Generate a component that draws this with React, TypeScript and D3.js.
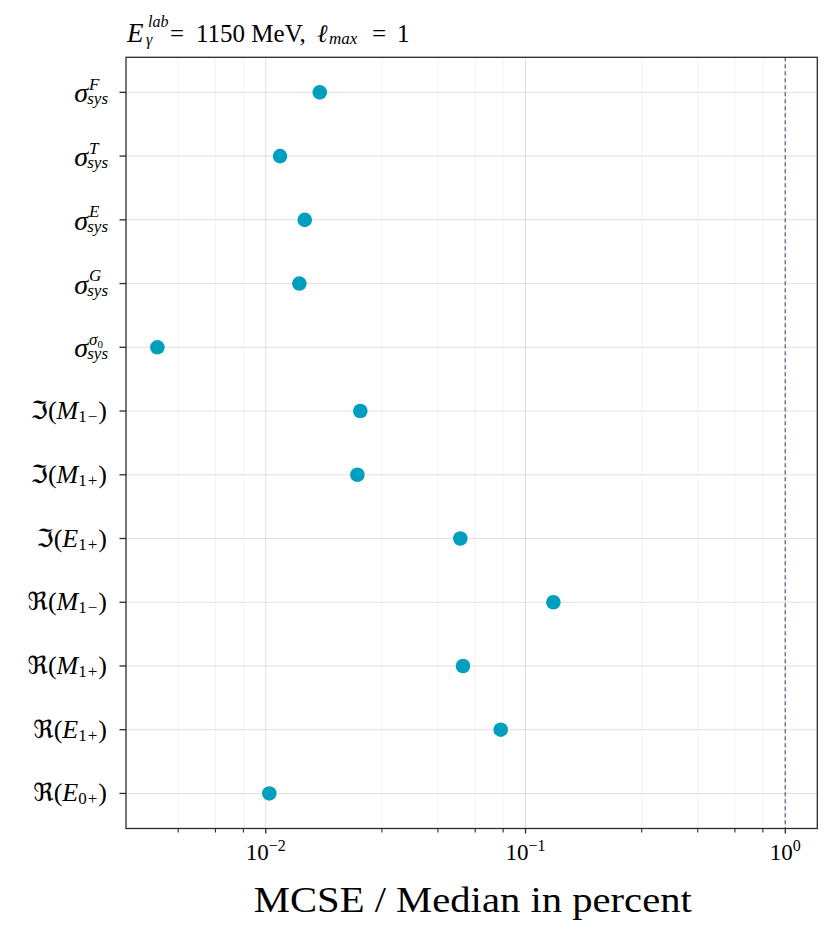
import * as d3 from 'd3';
import React from 'react';

// row labels, top to bottom
const labelOps = ['σ', 'σ', 'σ', 'σ', 'σ', 'ℑ', 'ℑ', 'ℑ', 'ℜ', 'ℜ', 'ℜ', 'ℜ'];
const labelSymbols = ['F', 'T', 'E', 'G', 'σ0', 'M', 'M', 'E', 'M', 'M', 'E', 'E'];
const labelSubs = ['sys', 'sys', 'sys', 'sys', 'sys', '1−', '1+', '1+', '1−', '1+', '1+', '0+'];

// MCSE / median in percent
const mcseValues = [0.01614, 0.01135, 0.01413, 0.01347, 0.003826, 0.02312, 0.02253, 0.05611, 0.128, 0.05745, 0.08025, 0.01032];

const majorTicks = [1e-2, 1e-1, 1];
const majorExponents = ['−2', '−1', '0'];
const referenceValue = 1;

const width = 834;
const height = 938;
const plot = { left: 126, top: 57.3, right: 817.3, bottom: 828.5 };

const serif = '"Liberation Serif", "DejaVu Serif", serif';
const frak = '"DejaVu Serif", "DejaVu Sans", serif';
const dotColor = '#009fbf';
const axisColor = '#2a2a2a';

const x = d3
	.scaleLog()
	.domain([10 ** -2.538, 10 ** 0.1232])
	.range([plot.left, plot.right]);

const y = d3
	.scalePoint<number>()
	.domain(d3.range(mcseValues.length))
	.range([plot.top, plot.bottom])
	.padding(0.55);

// minor ticks split each decade in 5 linear steps
const minorTicks: number[] = [];
[-3, -2, -1, 0].forEach(d => {
	for (let k = 1; k <= 4; k++) {
		const v = 10 ** d * (1 + 1.8 * k);
		const [lo, hi] = x.domain();
		if (v > lo && v < hi) minorTicks.push(v);
	}
});

const RowLabel: React.FC<{ i: number }> = ({ i }) => {
	const yy = y(i) as number;
	const op = labelOps[i];
	if (op === 'σ') {
		const sym = labelSymbols[i];
		return (
			<text fontFamily={serif} fontStyle="italic" fill="#000">
				<tspan x={88} y={yy + 10} fontSize={28} textAnchor="end">
					σ
				</tspan>
				<tspan x={89} y={yy - 2.5} fontSize={17} textAnchor="start">
					{sym === 'σ0' ? 'σ' : sym}
				</tspan>
				{sym === 'σ0' && (
					<tspan fontSize={11} fontStyle="normal" dy={3}>
						0
					</tspan>
				)}
				<tspan x={108} y={yy + 12} fontSize={17} textAnchor="end">
					{labelSubs[i]}
				</tspan>
			</text>
		);
	}
	const sub = labelSubs[i];
	return (
		<text x={107} y={yy + 8} fontFamily={serif} fontSize={26} textAnchor="end" fill="#000">
			<tspan fontFamily={frak} fontSize={25}>
				{op}
			</tspan>
			<tspan>(</tspan>
			<tspan fontStyle="italic">{labelSymbols[i]}</tspan>
			<tspan fontSize={17} dy={3}>
				{sub[0]}
			</tspan>
			<tspan fontSize={17} dx={1}>
				{sub[1]}
			</tspan>
			<tspan dy={-3} dx={1}>
				)
			</tspan>
		</text>
	);
};

export default function App() {
	const yTop = plot.top;
	const yBot = plot.bottom;
	return (
		<svg
			width={width}
			height={height}
			viewBox={`0 0 ${width} ${height}`}
			style={{ position: 'absolute', left: 0, top: 0, background: '#fff' }}
		>
			<rect x={0} y={0} width={width} height={height} fill="#fff" />

			{/* title */}
			<text fontFamily={serif} fill="#000" fontSize={25}>
				<tspan x={127} y={41.7} fontSize={27} fontStyle="italic">
					E
				</tspan>
				<tspan x={148} y={27} fontSize={16} fontStyle="italic">
					lab
				</tspan>
				<tspan x={146} y={45} fontSize={16} fontStyle="italic">
					γ
				</tspan>
				<tspan x={170} y={41.7}>
					=
				</tspan>
				<tspan x={196} y={41.7}>
					1150 MeV,
				</tspan>
				<tspan x={317} y={41.7} fontStyle="italic">
					ℓ
				</tspan>
				<tspan x={329} y={44} fontSize={17} fontStyle="italic">
					max
				</tspan>
				<tspan x={372} y={41.7}>
					=
				</tspan>
				<tspan x={397} y={41.7}>
					1
				</tspan>
			</text>

			{/* grid */}
			<g>
				{minorTicks.map(t => (
					<line key={`mg${t}`} x1={x(t)} x2={x(t)} y1={yTop} y2={yBot} stroke="#000" strokeOpacity={0.05} />
				))}
				{majorTicks.map(t => (
					<line key={`g${t}`} x1={x(t)} x2={x(t)} y1={yTop} y2={yBot} stroke="#000" strokeOpacity={0.12} />
				))}
				{mcseValues.map((_, i) => (
					<line
						key={`h${i}`}
						x1={plot.left}
						x2={plot.right}
						y1={y(i)}
						y2={y(i)}
						stroke="#000"
						strokeOpacity={0.12}
					/>
				))}
			</g>

			{/* reference line */}
			<line
				x1={x(referenceValue)}
				x2={x(referenceValue)}
				y1={yTop}
				y2={yBot}
				stroke="#6b7896"
				strokeWidth={1.5}
				strokeDasharray="4,3"
			/>

			{/* points */}
			{mcseValues.map((v, i) => (
				<circle key={`p${i}`} cx={x(v)} cy={y(i)} r={7.3} fill={dotColor} />
			))}

			{/* frame */}
			<rect
				x={plot.left}
				y={plot.top}
				width={plot.right - plot.left}
				height={plot.bottom - plot.top}
				fill="none"
				stroke={axisColor}
				strokeWidth={1.3}
			/>

			{/* x ticks */}
			{majorTicks.map((t, i) => (
				<g key={`xt${t}`}>
					<line x1={x(t)} x2={x(t)} y1={yBot} y2={yBot + 5} stroke={axisColor} strokeWidth={1.3} />
					<text x={x(t)} y={860} fontFamily={serif} fontSize={23} textAnchor="middle" fill="#000">
						10
						<tspan fontSize={16} dy={-9}>
							{majorExponents[i]}
						</tspan>
					</text>
				</g>
			))}
			{minorTicks.map(t => (
				<line key={`xm${t}`} x1={x(t)} x2={x(t)} y1={yBot} y2={yBot + 4} stroke={axisColor} strokeWidth={1.1} />
			))}

			{/* y ticks & labels */}
			{mcseValues.map((_, i) => (
				<g key={`yt${i}`}>
					<line x1={plot.left - 6.5} x2={plot.left} y1={y(i)} y2={y(i)} stroke={axisColor} strokeWidth={1.3} />
					<RowLabel i={i} />
				</g>
			))}

			{/* x label */}
			<text
				x={(253.6 + 692) / 2}
				y={911.7}
				fontFamily={serif}
				fontSize={35}
				textAnchor="middle"
				textLength={438}
				lengthAdjust="spacingAndGlyphs"
				fill="#000"
			>
				MCSE / Median in percent
			</text>
		</svg>
	);
}
